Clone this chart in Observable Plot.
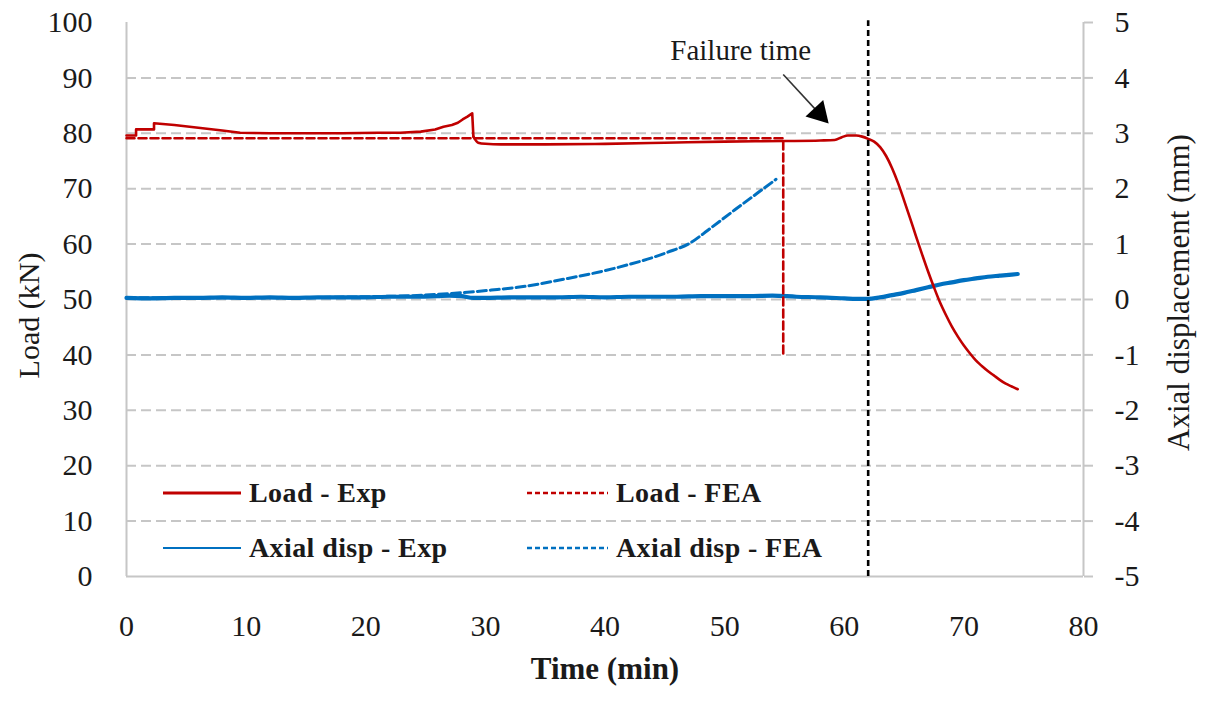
<!DOCTYPE html>
<html>
<head>
<meta charset="utf-8">
<script src="https://cdn.jsdelivr.net/npm/d3@7"></script>
<script src="https://cdn.jsdelivr.net/npm/@observablehq/plot@0.6"></script>
<style>
  html, body { margin: 0; padding: 0; background: #fff; }
  #wrap { position: relative; width: 1207px; height: 707px; overflow: hidden; }
  .leg { position: absolute; display: flex; align-items: center; font-family: 'Liberation Serif', serif; font-weight: bold; font-size: 28px; color: #1a1a1a; white-space: nowrap; letter-spacing: 0.4px; }
  .leg svg { display: block; margin-right: 8px; }
</style>
</head>
<body>
<div id="wrap"></div>
<script>
// ---------- data ----------
const timeTicks = [0, 10, 20, 30, 40, 50, 60, 70, 80];
const loadTicks = [0, 10, 20, 30, 40, 50, 60, 70, 80, 90, 100];
const loadGrid  = [10, 20, 30, 40, 50, 60, 70, 80, 90];
const dispTicks = [-5, -4, -3, -2, -1, 0, 1, 2, 3, 4, 5];

// Load - Exp (kN)
const loadExpTime = [0, 0.8, 0.8, 2.3, 2.3, 4, 6, 8, 9.5, 12, 14.5, 18, 21, 22.9, 24.6, 25.8, 26.5, 27.2, 27.7, 28.1, 28.5, 28.9, 29.0, 29.4, 30, 31.3, 35, 40, 45, 50, 55, 58, 59.2, 59.8, 60.3, 61, 61.5, 62, 62.5, 63, 63.5, 64, 64.5, 65, 65.5, 66, 66.5, 67, 67.5, 68, 68.5, 69, 69.5, 70, 70.5, 71, 71.5, 72, 72.5, 73, 73.5, 74, 74.5];
const loadExpKN   = [79.6, 79.6, 80.7, 80.7, 81.8, 81.5, 81.0, 80.5, 80.1, 80.0, 80.0, 80.0, 80.1, 80.1, 80.3, 80.7, 81.2, 81.5, 81.9, 82.5, 83.0, 83.6, 79.4, 78.3, 78.1, 78.0, 78.0, 78.1, 78.3, 78.5, 78.6, 78.7, 78.8, 79.3, 79.6, 79.6, 79.4, 79.0, 78.5, 77.5, 75.9, 73.7, 71.0, 67.9, 64.7, 61.4, 58.2, 55.1, 52.2, 49.5, 47.2, 45.1, 43.3, 41.7, 40.3, 39.0, 38.0, 37.1, 36.3, 35.5, 34.8, 34.3, 33.8];

// Load - FEA (kN)
const loadFeaTime = [0, 54.9, 54.9];
const loadFeaKN   = [79.1, 79.1, 40.0];

// Axial disp - Exp (mm)
const dispExpTime = [0, 2, 4, 6, 8, 10, 12, 14, 16, 18, 20, 22, 24, 26, 27, 28, 29, 30, 32, 34, 36, 38, 40, 42, 44, 46, 48, 50, 52, 54, 56, 58, 60, 61, 62, 63, 64, 65, 66, 67, 68, 69, 70, 71, 72, 73, 74, 74.5];
const dispExpMM   = [0.03, 0.02, 0.03, 0.03, 0.04, 0.03, 0.04, 0.03, 0.04, 0.04, 0.04, 0.05, 0.05, 0.06, 0.07, 0.06, 0.03, 0.03, 0.04, 0.04, 0.04, 0.05, 0.04, 0.05, 0.05, 0.05, 0.06, 0.06, 0.06, 0.07, 0.05, 0.04, 0.02, 0.01, 0.01, 0.04, 0.08, 0.12, 0.17, 0.22, 0.27, 0.31, 0.35, 0.38, 0.41, 0.43, 0.45, 0.46];

// Axial disp - FEA (mm)
const dispFeaTime = [0, 10, 20, 25, 28.5, 30.5, 32.7, 36.9, 41.1, 45.2, 47.2, 48.6, 50.8, 52.8, 54.3];
const dispFeaMM   = [0.03, 0.03, 0.05, 0.08, 0.13, 0.17, 0.22, 0.38, 0.58, 0.85, 1.03, 1.25, 1.61, 1.93, 2.17];

const failureTime = [62];

// annotation
const annoLabel = [{text: "Failure time", t: 51.35, load: 94.9}];
const annoArrow = [{t1: 54.9, l1: 90.6, t2: 57.9, l2: 83.6}];
const annoHead  = [{t: 57.9, load: 83.6}];

// ---------- helpers ----------
const rows = (ts, vs) => ts.map((t, i) => ({t, v: vs[i]}));
const dispToLoad = d => 50 + 10 * d;   // right axis (-5..5 mm) onto left axis (0..100 kN)

const RED = "#c00000";
const BLUE = "#0070c0";
const GRID = "#c6c6c6";
const TXT = "#1a1a1a";

const loadExpRows = rows(loadExpTime, loadExpKN);
const loadExpBefore = loadExpRows.filter(d => d.t <= 29.0);
const loadExpAfter = loadExpRows.filter(d => d.t >= 29.0);

const chart = Plot.plot({
  width: 1207,
  height: 707,
  marginLeft: 126,
  marginRight: 124,
  marginTop: 22,
  marginBottom: 131,
  x: {domain: [0, 80]},
  y: {domain: [0, 100]},
  style: {fontFamily: "'Liberation Serif', serif", fontSize: "30px", color: TXT, background: "#fff", overflow: "visible"},
  marks: [
    Plot.ruleY(loadGrid, {stroke: GRID, strokeWidth: 2, strokeDasharray: "10,5"}),
    Plot.ruleX([0, 80], {stroke: GRID, strokeWidth: 2}),
    Plot.ruleY([0], {stroke: GRID, strokeWidth: 2}),
    Plot.axisY(loadTicks, {anchor: "left", tickSize: 0, tickPadding: 34, label: null, fill: TXT}),
    Plot.axisY(dispTicks.map(dispToLoad), {anchor: "right", tickSize: 9, tickPadding: 22, label: null, stroke: GRID, strokeWidth: 2, fill: TXT, tickFormat: d => String(Math.round((d - 50) / 10))}),
    Plot.axisX(timeTicks, {anchor: "bottom", tickSize: 0, tickPadding: 38, label: null, fill: TXT}),
    Plot.text(["Time (min)"], {frameAnchor: "bottom", textAnchor: "middle", dy: 102, fontWeight: "bold", fontSize: 31, fill: TXT, letterSpacing: 1}),
    Plot.text(["Load (kN)"], {frameAnchor: "left", textAnchor: "middle", dx: -97, dy: 16, rotate: -90, fontSize: 30, fill: TXT, letterSpacing: 0.5}),
    Plot.text(["Axial displacement (mm)"], {frameAnchor: "right", textAnchor: "middle", dx: 96, dy: -7, rotate: -90, fontSize: 31, fill: TXT, letterSpacing: 1.5}),

    Plot.line(rows(dispExpTime, dispExpMM), {x: "t", y: d => dispToLoad(d.v), stroke: BLUE, strokeWidth: 4.2, curve: "monotone-x"}),
    Plot.line(rows(dispFeaTime, dispFeaMM), {x: "t", y: d => dispToLoad(d.v), stroke: BLUE, strokeWidth: 3, strokeDasharray: "9,4", curve: "monotone-x"}),
    Plot.line(rows(loadFeaTime, loadFeaKN), {x: "t", y: "v", stroke: RED, strokeWidth: 2.6, strokeDasharray: "8,4"}),
    Plot.line(loadExpBefore, {x: "t", y: "v", stroke: RED, strokeWidth: 2.6, curve: "linear"}),
    Plot.line(loadExpAfter, {x: "t", y: "v", stroke: RED, strokeWidth: 2.6, curve: "monotone-x"}),
    Plot.ruleX(failureTime, {y1: 0, y2: 100.3, stroke: "#000", strokeWidth: 2.6, strokeDasharray: "6,4"}),

    Plot.link(annoArrow, {x1: "t1", y1: "l1", x2: "t2", y2: "l2", stroke: "#333", strokeWidth: 1.6}),
    Plot.dot(annoHead, {x: "t", y: "load", symbol: "triangle", r: 9, fill: "#000", stroke: "none", rotate: 137}),
    Plot.text(annoLabel, {x: "t", y: "load", text: "text", fontSize: 29, fill: TXT})
  ]
});

const wrap = document.getElementById("wrap");
wrap.appendChild(chart);

// legend (inside the plot area, as in the reference)
const legendItems = [
  {label: "Load - Exp",        color: RED,  dash: null,  width: 3,   left: 163, top: 493},
  {label: "Load - FEA",        color: RED,  dash: "5,3", width: 2.5, left: 527, top: 493},
  {label: "Axial disp - Exp",  color: BLUE, dash: null,  width: 2,   left: 163, top: 548},
  {label: "Axial disp - FEA",  color: BLUE, dash: "5,3", width: 2.5, left: 527, top: 548}
];
for (const it of legendItems) {
  const div = document.createElement("div");
  div.className = "leg";
  div.style.left = it.left + "px";
  div.style.top = (it.top - 20) + "px";
  div.style.height = "40px";
  const w = it.dash ? 81 : 78;
  div.innerHTML = `<svg width="${w}" height="10"><line x1="0" y1="5" x2="${w}" y2="5" stroke="${it.color}" stroke-width="${it.width}" ${it.dash ? `stroke-dasharray="${it.dash}"` : ""}/></svg><span>${it.label}</span>`;
  wrap.appendChild(div);
}
</script>
</body>
</html>
